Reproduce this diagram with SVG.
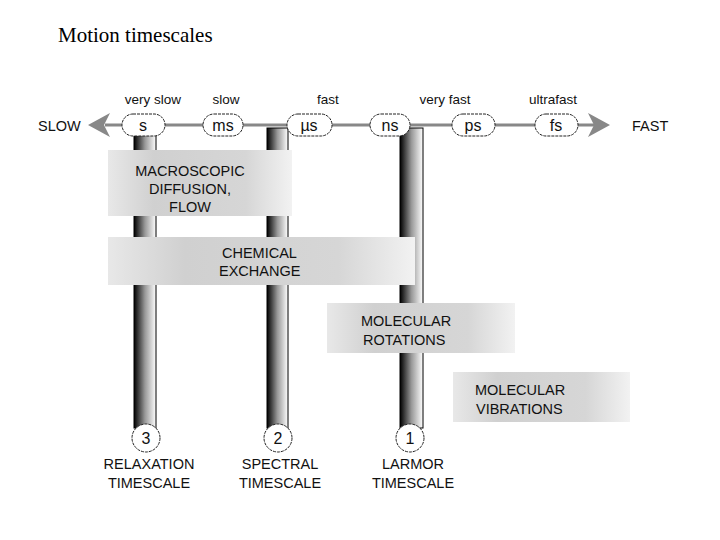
<svg xmlns="http://www.w3.org/2000/svg" width="720" height="540" viewBox="0 0 720 540">
<style>
.t{font-family:"Liberation Sans",Arial,sans-serif;font-size:14.5px;fill:#111}
.s{font-family:"Liberation Sans",Arial,sans-serif;font-size:13.5px;fill:#111}
.b{font-family:"Liberation Sans",Arial,sans-serif;font-size:16px;fill:#111}
.pill{fill:#fff;stroke:#222;stroke-width:1;stroke-dasharray:3 1}
.pillar{fill:url(#pg);stroke:#000;stroke-width:1}
.box{fill:url(#bg)}
</style>
<defs>
<linearGradient id="pg" x1="0" x2="1"><stop offset="0" stop-color="#000"/><stop offset="0.5" stop-color="#999"/><stop offset="1" stop-color="#fff"/></linearGradient>
<linearGradient id="bg" x1="0" x2="1"><stop offset="0" stop-color="#e8e8e8"/><stop offset="0.25" stop-color="#d0d0d0"/><stop offset="0.75" stop-color="#d6d6d6"/><stop offset="1" stop-color="#f2f2f2"/></linearGradient>
</defs>
<text x="58" y="42" font-family="Liberation Serif,serif" font-size="21" fill="#000">Motion timescales</text>
<g id="pillars">
<rect class="pillar" x="134" y="128" width="22" height="300"/>
<rect class="pillar" x="267" y="128" width="21" height="300"/>
<rect class="pillar" x="400" y="128" width="23" height="300"/>
</g>
<g id="connectors">
<line x1="105" y1="125" x2="595" y2="125" stroke="#888" stroke-width="3"/>
<polygon points="88,125 110,113 104,125 110,137" fill="#888"/>
<polygon points="610,125 588,113 594,125 588,137" fill="#888"/>
</g>
<g id="scale">
<text class="s" x="153" y="104" text-anchor="middle">very slow</text>
<text class="s" x="226" y="104" text-anchor="middle">slow</text>
<text class="s" x="328" y="104" text-anchor="middle">fast</text>
<text class="s" x="445" y="104" text-anchor="middle">very fast</text>
<text class="s" x="553" y="104" text-anchor="middle">ultrafast</text>
<text class="t" x="38" y="131">SLOW</text>
<text class="t" x="632" y="131">FAST</text>
<rect class="pill" x="122" y="114" width="43" height="22" rx="11"/><text class="b" x="143" y="131" text-anchor="middle">s</text>
<rect class="pill" x="203" y="114" width="40" height="22" rx="11"/><text class="b" x="223" y="131" text-anchor="middle">ms</text>
<rect class="pill" x="287" y="114" width="45" height="22" rx="11"/><text class="b" x="309" y="131" text-anchor="middle">µs</text>
<rect class="pill" x="370" y="114" width="40" height="22" rx="11"/><text class="b" x="390" y="131" text-anchor="middle">ns</text>
<rect class="pill" x="452" y="114" width="43" height="22" rx="11"/><text class="b" x="473" y="131" text-anchor="middle">ps</text>
<rect class="pill" x="535" y="114" width="43" height="22" rx="11"/><text class="b" x="556" y="131" text-anchor="middle">fs</text>
</g>
<g id="macro"><rect class="box" x="108" y="150" width="184" height="66"/>
<text class="t" x="190" y="176" text-anchor="middle">MACROSCOPIC</text><text class="t" x="190" y="194" text-anchor="middle">DIFFUSION,</text><text class="t" x="190" y="212" text-anchor="middle">FLOW</text></g>
<g id="chem"><rect class="box" x="108" y="237" width="307" height="48"/>
<text class="t" x="222" y="258">CHEMICAL</text><text class="t" x="219" y="276">EXCHANGE</text></g>
<g id="rot"><rect class="box" x="327" y="303" width="188" height="50"/>
<text class="t" x="361" y="326">MOLECULAR</text><text class="t" x="363" y="345">ROTATIONS</text></g>
<g id="vib"><rect class="box" x="453" y="372" width="177" height="50"/>
<text class="t" x="475" y="395">MOLECULAR</text><text class="t" x="476" y="414">VIBRATIONS</text></g>
<g id="n3"><circle cx="146" cy="438" r="14" fill="#fff" stroke="#222" stroke-dasharray="3 1"/><text class="b" x="146" y="444" text-anchor="middle">3</text>
<text class="t" x="149" y="469" text-anchor="middle">RELAXATION</text><text class="t" x="149" y="488" text-anchor="middle">TIMESCALE</text></g>
<g id="n2"><circle cx="278" cy="438" r="14" fill="#fff" stroke="#222" stroke-dasharray="3 1"/><text class="b" x="278" y="444" text-anchor="middle">2</text>
<text class="t" x="280" y="469" text-anchor="middle">SPECTRAL</text><text class="t" x="280" y="488" text-anchor="middle">TIMESCALE</text></g>
<g id="n1"><circle cx="410" cy="438" r="14" fill="#fff" stroke="#222" stroke-dasharray="3 1"/><text class="b" x="410" y="444" text-anchor="middle">1</text>
<text class="t" x="413" y="469" text-anchor="middle">LARMOR</text><text class="t" x="413" y="488" text-anchor="middle">TIMESCALE</text></g>
</svg>
